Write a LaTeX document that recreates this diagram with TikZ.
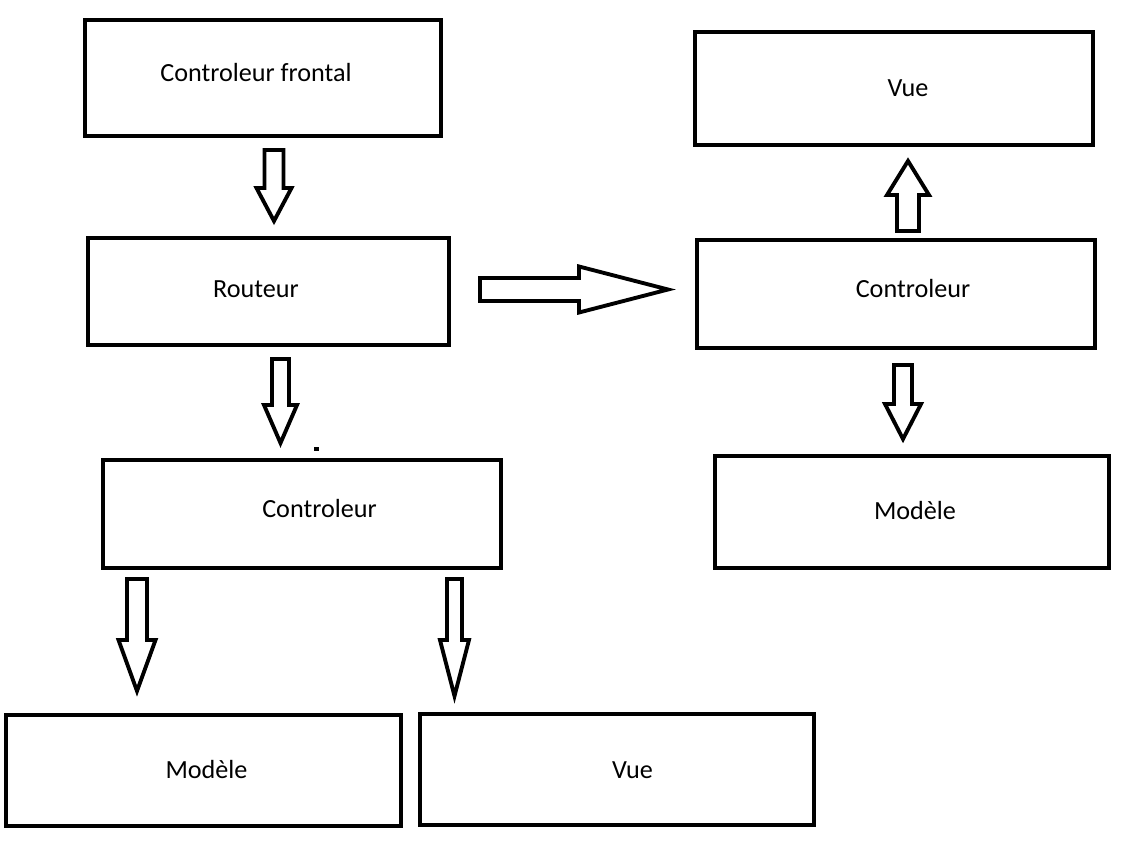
\documentclass[tikz,border=0pt]{standalone}
\usepackage{fontspec}
\setmainfont{Carlito}
\usepackage{tikz}
\usetikzlibrary{calc}

\begin{document}
\begin{tikzpicture}[x=0.02cm, y=-0.02cm,
    boite/.style={draw, line width=2.28pt, outer sep=0pt, inner sep=0pt},
    texte/.style={anchor=base, inner sep=0pt, font=\fontsize{14.9}{18}\selectfont},
    fleche/.style={draw, line width=2.2pt}]
  \def\unite{0.569055pt}
  \useasboundingbox (0,0) rectangle (1126,848);
  % boites : nom/x/y/largeur/hauteur/decalage du texte
  \foreach \nom/\cx/\cy/\w/\h/\dx/\dy/\etiquette in {
      frontal/263/78/356/116/-7/4/Controleur frontal,
      routeur/268.5/291.5/361/107/-12.5/5.5/Routeur,
      ctrlG/302/514/398/108/17.5/3/Controleur,
      modeleG/203.5/770.5/395/111/3/7.5/Modèle,
      vueG/617/769.5/394/111/15.5/8.5/Vue,
      vueD/894/88.5/398/113/14/8.5/Vue,
      ctrlD/896/294/398/108/17/3/Controleur,
      modeleD/912/512/394/112/3/7/Modèle}{%
    \node[boite, minimum width=\w*\unite, minimum height=\h*\unite] (\nom) at (\cx,\cy) {};
    \node[texte] (\nom-t) at ($(\nom.center)+(\dx,\dy)$) {\etiquette};
  }
  % extremites des fleches
  \coordinate (f1a) at ($(frontal.south)+(11,14)$);
  \coordinate (f1b) at ($(routeur.north)+(5.5,-17)$);
  \coordinate (f2a) at ($(routeur.south)+(12,14)$);
  \coordinate (f2b) at ($(ctrlG.north)+(-21.5,-17)$);
  \coordinate (f3a) at ($(routeur.east)+(31,-2)$);
  \coordinate (f3b) at ($(ctrlD.west)+(-29,-4.5)$);
  \coordinate (f4a) at ($(ctrlD.north)+(12,-9)$);
  \coordinate (f4b) at ($(vueD.south)+(14,16)$);
  \coordinate (f5a) at ($(ctrlD.south)+(7,17)$);
  \coordinate (f5b) at ($(modeleD.north)+(-9,-17)$);
  \coordinate (f6a) at ($(ctrlG.south west)+(34,11)$);
  \coordinate (f6b) at ($(modeleG.north)+(-66.5,-24)$);
  \coordinate (f7a) at ($(ctrlG.south east)+(-46.5,11)$);
  \coordinate (f7b) at ($(vueG.north)+(-162.5,-18)$);
  % fleches creuses : depart/arrivee/demi-tige/demi-pointe/longueur pointe
  \foreach \dep/\arr/\sw/\hw/\hl in {
      f1a/f1b/9.5/17.5/33,
      f2a/f2b/8.5/16.5/38,
      f3a/f3b/11.5/23/89,
      f4a/f4b/11/21/34,
      f5a/f5b/9/18/35,
      f6a/f6b/10/18.5/51,
      f7a/f7b/7.5/14.5/56}{%
    \draw[fleche] let \p1=(\dep), \p2=(\arr),
        \n1={atan2(\y2-\y1,\x2-\x1)}, \n2={veclen(\x2-\x1,\y2-\y1)} in
      [shift={(\p1)}, rotate=\n1]
      (0pt,-\sw*\unite) -- ({\n2-\hl*\unite},-\sw*\unite)
      -- ({\n2-\hl*\unite},-\hw*\unite) -- (\n2,0pt)
      -- ({\n2-\hl*\unite},\hw*\unite) -- ({\n2-\hl*\unite},\sw*\unite)
      -- (0pt,\sw*\unite) -- cycle;
  }
  \fill (314,447) rectangle (319,451);
\end{tikzpicture}
\end{document}
